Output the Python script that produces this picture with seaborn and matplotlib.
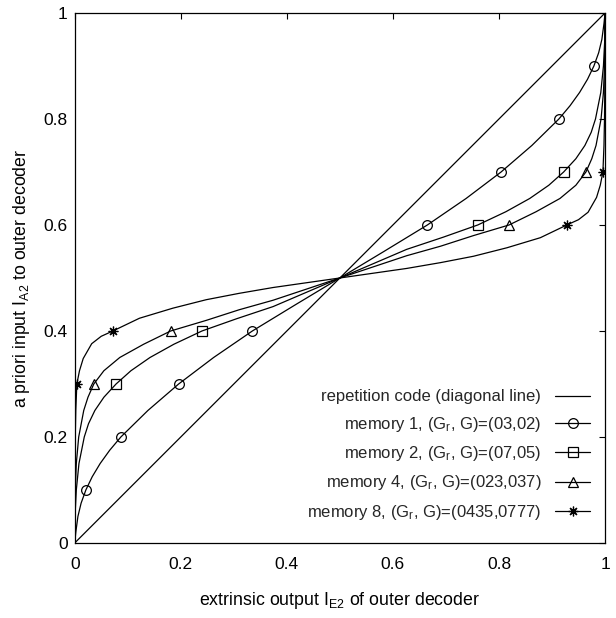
import numpy as np
import matplotlib
matplotlib.use("Agg")
import matplotlib.pyplot as plt
import seaborn as sns

# EXIT curves of the outer decoder: a priori input I_A2 versus extrinsic output I_E2
rep_x = [0.0, 1.0]
rep_y = [0.0, 1.0]

mem1_x = [0.0, 0.002, 0.006, 0.012, 0.021, 0.033, 0.048, 0.066, 0.087, 0.138, 0.196, 0.262, 0.335, 0.417, 0.5,
          0.583, 0.665, 0.738, 0.804, 0.862, 0.913, 0.934, 0.952, 0.967, 0.979, 0.988, 0.994, 0.998, 1.0]
mem1_y = [0.0, 0.02, 0.05, 0.075, 0.1, 0.125, 0.15, 0.175, 0.2, 0.25, 0.3, 0.35, 0.4, 0.45, 0.5,
          0.55, 0.6, 0.65, 0.7, 0.75, 0.8, 0.825, 0.85, 0.875, 0.9, 0.925, 0.95, 0.98, 1.0]

mem2_x = [0.0, 0.0005, 0.003, 0.008, 0.018, 0.026, 0.038, 0.055, 0.078, 0.106, 0.142, 0.187, 0.24, 0.305, 0.374, 0.437, 0.5,
          0.563, 0.626, 0.695, 0.76, 0.813, 0.858, 0.894, 0.922, 0.945, 0.962, 0.974, 0.982, 0.992, 0.997, 0.9995, 1.0]
mem2_y = [0.0, 0.05, 0.1, 0.15, 0.2, 0.225, 0.25, 0.275, 0.3, 0.325, 0.35, 0.375, 0.4, 0.423, 0.446, 0.473, 0.5,
          0.527, 0.554, 0.577, 0.6, 0.625, 0.65, 0.675, 0.7, 0.725, 0.75, 0.775, 0.8, 0.85, 0.9, 0.95, 1.0]

mem4_x = [0.0, 0.0002, 0.001, 0.003, 0.0075, 0.017, 0.025, 0.036, 0.055, 0.085, 0.13, 0.181, 0.248, 0.31, 0.374, 0.437, 0.5,
          0.563, 0.626, 0.69, 0.752, 0.819, 0.87, 0.915, 0.945, 0.964, 0.975, 0.983, 0.9925, 0.997, 0.999, 0.9998, 1.0]
mem4_y = [0.0, 0.05, 0.1, 0.15, 0.2, 0.25, 0.275, 0.3, 0.325, 0.35, 0.375, 0.4, 0.42, 0.44, 0.458, 0.479, 0.5,
          0.521, 0.542, 0.56, 0.58, 0.6, 0.625, 0.65, 0.675, 0.7, 0.725, 0.75, 0.8, 0.85, 0.9, 0.95, 1.0]

mem8_x = [0.0, 0.0, 0.001, 0.002, 0.004, 0.009, 0.016, 0.032, 0.05, 0.072, 0.122, 0.185, 0.248, 0.31, 0.374, 0.437, 0.5,
          0.563, 0.626, 0.69, 0.752, 0.815, 0.878, 0.928, 0.95, 0.968, 0.984, 0.991, 0.996, 0.998, 0.999, 1.0, 1.0]
mem8_y = [0.0, 0.1, 0.2, 0.25, 0.3, 0.325, 0.348, 0.376, 0.39, 0.4, 0.424, 0.443, 0.459, 0.471, 0.482, 0.491, 0.5,
          0.509, 0.518, 0.529, 0.541, 0.557, 0.576, 0.6, 0.61, 0.624, 0.652, 0.675, 0.7, 0.75, 0.8, 0.9, 1.0]

# I_A2 levels at which each curve carries a point symbol
mem1_marks = [0.1, 0.2, 0.3, 0.4, 0.6, 0.7, 0.8, 0.9]
mem2_marks = [0.3, 0.4, 0.6, 0.7]
mem4_marks = [0.3, 0.4, 0.6, 0.7]
mem8_marks = [0.3, 0.4, 0.6, 0.7]

labels = [
    "repetition code (diagonal line)",
    "memory 1, (G$_r$, G)=(03,02)",
    "memory 2, (G$_r$, G)=(07,05)",
    "memory 4, (G$_r$, G)=(023,037)",
    "memory 8, (G$_r$, G)=(0435,0777)",
]
ticks = [0.0, 0.2, 0.4, 0.6, 0.8, 1.0]
tick_labels = ["0", "0.2", "0.4", "0.6", "0.8", "1"]

sns.set_theme(style="white")
plt.rcParams["font.family"] = ["Liberation Sans", "DejaVu Sans"]
plt.rcParams["mathtext.default"] = "regular"

fig = plt.figure(figsize=(6.16, 6.18), dpi=100)
ax = fig.add_axes([0.1213, 0.1214, 0.8609, 0.8576])

line_kw = dict(color="black", linewidth=0.9, sort=False, estimator=None, ax=ax)
mark_kw = dict(markersize=7, markerfacecolor="none", markeredgecolor="black", markeredgewidth=0.9)

sns.lineplot(x=rep_x, y=rep_y, label=labels[0], **line_kw)

series = [
    (mem1_x, mem1_y, mem1_marks, "o", labels[1]),
    (mem2_x, mem2_y, mem2_marks, "s", labels[2]),
    (mem4_x, mem4_y, mem4_marks, "^", labels[3]),
    (mem8_x, mem8_y, mem8_marks, (8, 2, 0), labels[4]),
]
for xs, ys, marks, mk, lab in series:
    ys_arr = np.asarray(ys)
    idx = [int(np.argmin(np.abs(ys_arr - m))) for m in marks]
    kw = dict(mark_kw)
    if mk == "s":
        kw["markersize"] = 6.5
    sns.lineplot(x=xs, y=ys, label=lab, marker=mk, markevery=idx, **kw, **line_kw)

ax.set_xlim(0, 1)
ax.set_ylim(0, 1)
ax.set_xticks(ticks)
ax.set_xticklabels(tick_labels)
ax.set_yticks(ticks)
ax.set_yticklabels(tick_labels)
ax.tick_params(axis="both", direction="in", top=True, right=True, length=4, width=0.8,
               color="black", labelsize=12.5, labelcolor="black")
ax.tick_params(axis="x", pad=10)
ax.tick_params(axis="y", pad=5)
for sp in ax.spines.values():
    sp.set_color("black")
    sp.set_linewidth(0.9)

ax.set_xlabel("extrinsic output I$_{E2}$ of outer decoder", fontsize=12.8, labelpad=13, color="black")
ax.set_ylabel("a priori input I$_{A2}$ to outer decoder", fontsize=12.8, labelpad=8.5, color="black")

ax.legend(loc="lower right", bbox_to_anchor=(0.972, 0.04), frameon=False, markerfirst=False,
          fontsize=12, handlelength=2.1, handletextpad=0.84, labelspacing=0.62,
          borderaxespad=0, borderpad=0)

fig.savefig("out.png", dpi=100)
